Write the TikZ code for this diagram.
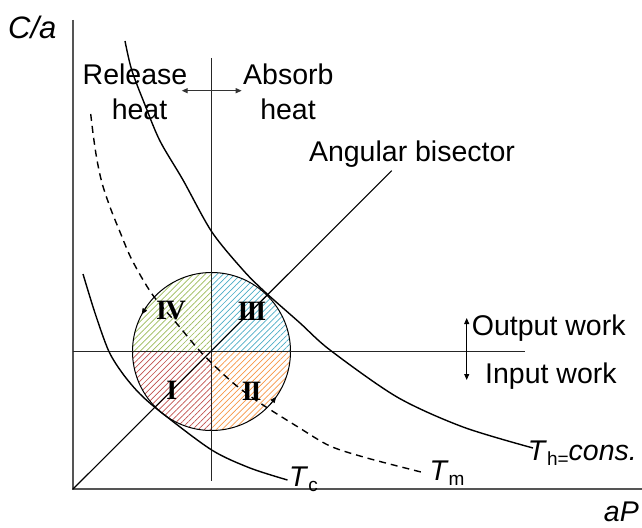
\documentclass[tikz,border=0pt]{standalone}
\usepackage{fontspec}
\setmainfont{Liberation Sans}
\newfontfamily\numfont{Liberation Serif}
\usetikzlibrary{arrows.meta,patterns.meta}
\definecolor{hgreen}{HTML}{9BBB59}
\definecolor{hblue}{HTML}{4BACC6}
\definecolor{hred}{HTML}{C0504D}
\definecolor{horange}{HTML}{F79646}
\definecolor{axisgray}{HTML}{555555}
\begin{document}
\begin{tikzpicture}[x=1pt,y=-1pt,
  lab/.style={font=\fontsize{28.5}{34}\selectfont, inner sep=0pt},
  numlab/.style={font=\numfont\bfseries\fontsize{28}{28}\selectfont, inner sep=0pt},
  axisline/.style={draw=axisgray, line width=2pt},
  guide/.style={draw=black!85, line width=1pt},
  curve/.style={draw=black, line width=1.4pt},
  dashcurve/.style={draw=black, line width=1.4pt, dash pattern=on 7pt off 5pt},
  hatch/.style={pattern={Lines[angle=45,distance=4.2pt,line width=0.7pt]}, pattern color=#1},
  tipend/.style={-{Triangle[length=6pt,width=5pt]}},
  dtips/.style={{Triangle[length=6pt,width=5pt]}-{Triangle[length=6pt,width=5pt]}},
]
\useasboundingbox (0,0) rectangle (642,527);

% named coordinates
\coordinate (O) at (72.7,489.3);
\coordinate (Ytop) at (72.7,20);
\coordinate (Xend) at (642,489.3);
\coordinate (C) at (211.5,351.5);
\coordinate (Vtop) at (211.7,58);
\coordinate (Vbot) at (211.7,481);
\coordinate (Hl) at (72.7,351);
\coordinate (Hr) at (525,351);
\coordinate (Bend) at (391.7,170.7);

% hatched quadrants
\begin{scope}
  \clip (C) circle[radius=79];
  \fill[hatch=hgreen] (132,272) rectangle (211.5,351.5);
  \fill[hatch=hblue] (211.5,272) rectangle (291,351.5);
  \fill[hatch=hred] (132,351.5) rectangle (211.5,431);
  \fill[hatch=horange] (211.5,351.5) rectangle (291,431);
\end{scope}
\draw[line width=1pt] (C) circle[radius=79];

% axes
\draw[axisline] (Ytop) -- (O) -- (Xend);
% guide lines
\draw[guide] (Vtop) -- (Vbot);
\draw[guide] (Hl) -- (Hr);
\draw[line width=1.1pt] (O) -- (Bend);

% curves
\draw[curve] plot[smooth] coordinates {(125,41) (131.7,70) (145,105) (160,141) (183,180) (211.7,231.7) (243,270) (265,292) (300,323) (330,350) (397,397) (463,427) (533,448)};
\draw[curve] plot[smooth] coordinates {(83,274) (95,313) (108.7,351) (123,374) (140,394) (162,413) (211.7,450) (250,468) (287.5,480)};
\draw[dashcurve] plot[smooth] coordinates {(90.7,114) (93.5,137) (97,160) (102,183) (110,207) (120,232) (132,260) (152,294) (178,325) (201.7,353) (232,382) (260,403) (298,427) (330,446) (367,458) (421,472)};

% circulation arrows on circle
\coordinate (a1s) at (146.8,306.2);
\coordinate (a1e) at (141.75,314.4);
\coordinate (a2s) at (270.2,404.4);
\coordinate (a2e) at (276.2,396.8);
\draw[tipend, line width=0.8pt] (a1s) -- (a1e);
\draw[tipend, line width=0.8pt] (a2s) -- (a2e);

% heat arrow
\coordinate (hL) at (181.7,90.7);
\coordinate (hR) at (241.7,90.7);
\draw[dtips, line width=1.2pt, draw=black!80] (hL) -- (hR);
% work arrow
\coordinate (wT) at (466.7,318);
\coordinate (wB) at (466.7,380);
\draw[dtips, line width=1pt] (wT) -- (wB);

% labels
\node[lab, anchor=base west, font=\fontsize{31}{34}\selectfont] (ca) at (8,38) {\textit{C/a}};
\node[lab, anchor=base east] (ap) at (639,521.7) {\textit{aP}};
\node[lab, anchor=base] (rel) at (135,84.3) {Release};
\node[lab, anchor=base] (relh) at (139.5,119) {heat};
\node[lab, anchor=base west] (abs) at (243,84.3) {Absorb};
\node[lab, anchor=base] (absh) at (288,119) {heat};
\node[lab, anchor=base] (ab) at (412,161) {Angular bisector};
\node[lab, anchor=base west] (out) at (471.7,335) {Output work};
\node[lab, anchor=base west] (inp) at (485,383.3) {Input work};
\node[lab, anchor=base west] (tc) at (289,486.7) {\textit{T}{\fontsize{19}{19}\selectfont\raisebox{-5pt}{c}}};
\node[lab, anchor=base west] (tm) at (429.3,480) {\textit{T}{\fontsize{19}{19}\selectfont\raisebox{-5pt}{m}}};
\node[lab, anchor=base east] (th) at (637,460) {\textit{T}{\fontsize{19}{19}\selectfont\raisebox{-5pt}{h=}}\textit{cons.}};

% roman numerals
\node[numlab] (q4) at (171,311) {I\kern-1.5pt V};
\node[numlab] (q3) at (252,311.5) {I\kern-2pt I\kern-2pt I};
\node[numlab] (q1) at (171.7,390) {I};
\node[numlab] (q2) at (251.7,391) {I\kern-2pt I};
\end{tikzpicture}
\end{document}
